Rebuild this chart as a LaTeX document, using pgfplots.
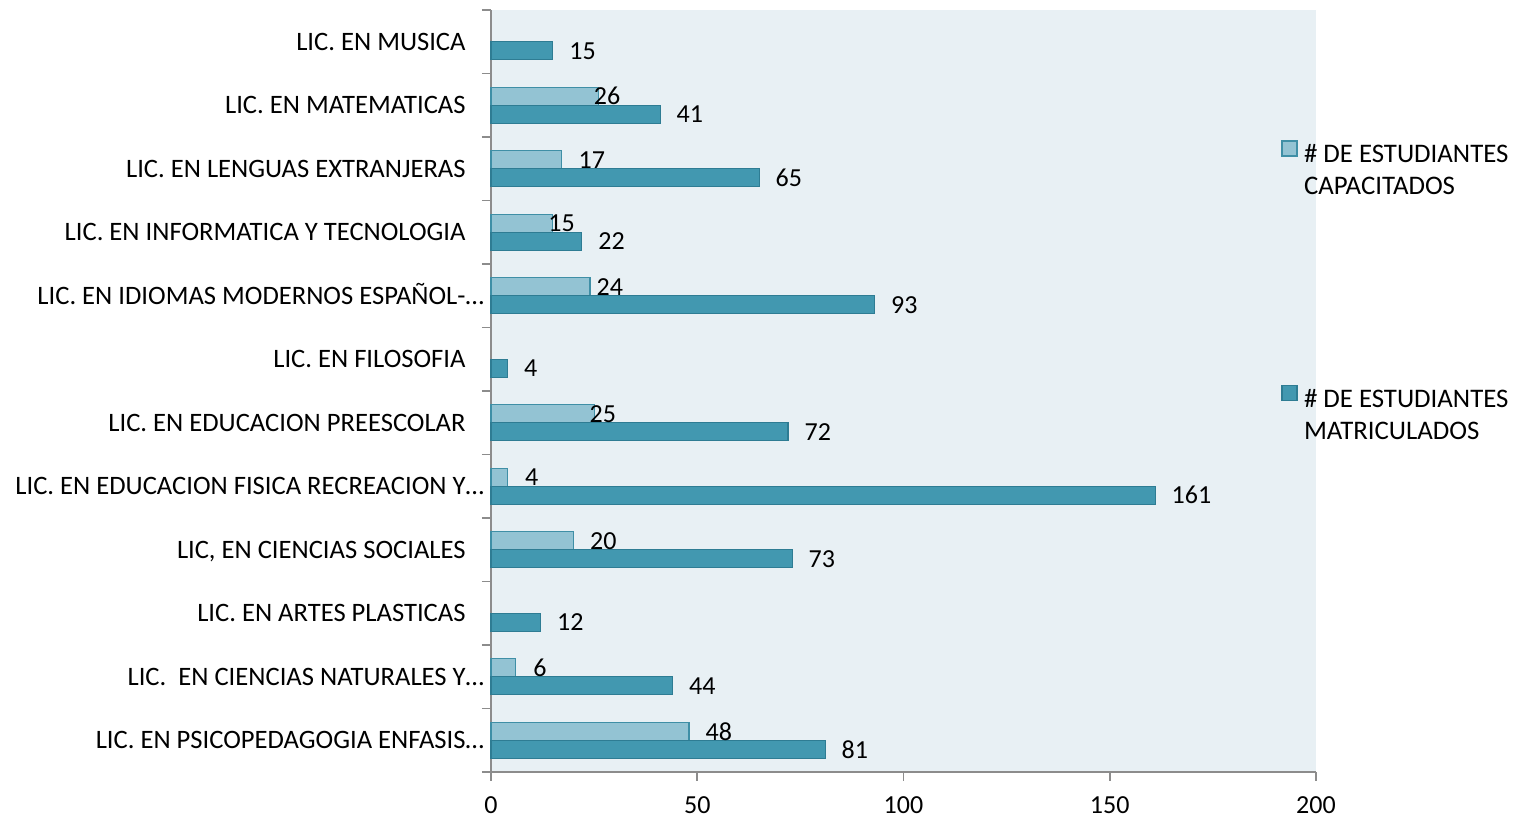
\documentclass[border=0pt]{standalone}
\usepackage{pgfplots}
\pgfplotsset{compat=1.18}
\usepackage{fontspec}
\setmainfont{Carlito}
\definecolor{bgc}{HTML}{E8F0F4}
\definecolor{matf}{HTML}{4298B0}
\definecolor{mate}{HTML}{2E7C93}
\definecolor{capf}{HTML}{93C3D3}
\definecolor{cape}{HTML}{3F8FA6}
\definecolor{axg}{HTML}{8C8C8C}
\begin{document}
\begin{tikzpicture}
\path[use as bounding box] (-245.5pt,-22.5pt) rectangle (515pt,386pt);
\begin{axis}[
  at={(0,0)}, anchor=south west,
  scale only axis, width=412.5pt, height=381pt,
  xmin=0, xmax=200, ymin=-0.5, ymax=11.5,
  /pgf/number format/assume math mode=true,
  axis lines=left, axis line style={-, axg, line width=0.8pt},
  axis background/.style={fill=bgc},
  xtick={0,50,100,150,200},
  tick align=outside,
  x tick style={axg, line width=0.8pt},
  major tick length=4.5pt,
  ytick={0,...,11},
  y tick style={draw=none},
  minor ytick={-0.5,0.5,...,11.5},
  minor y tick style={axg, line width=0.8pt, draw=axg},
  minor tick length=4.5pt,
  yticklabels={
    LIC. EN PSICOPEDAGOGIA ENFASIS\rlap{…},
    LIC.\ \ EN CIENCIAS NATURALES Y\rlap{…},
    LIC. EN ARTES PLASTICAS,
    LIC{,} EN CIENCIAS SOCIALES,
    LIC. EN EDUCACION FISICA RECREACION Y\rlap{…},
    LIC. EN EDUCACION PREESCOLAR,
    LIC. EN FILOSOFIA,
    LIC. EN IDIOMAS MODERNOS ESPAÑOL-\rlap{…},
    LIC. EN INFORMATICA Y TECNOLOGIA,
    LIC. EN LENGUAS EXTRANJERAS,
    LIC. EN MATEMATICAS,
    LIC. EN MUSICA},
  yticklabel style={font=\fontsize{13.3}{15}\selectfont, anchor=base east, inner sep=0pt, xshift=-8pt, yshift=-4.2pt},
  xticklabel style={font=\fontsize{13}{15}\selectfont, inner sep=0pt, anchor=north, yshift=-7.8pt},
  xbar, bar width=9pt,
  nodes near coords,
  every node near coord/.append style={font=\fontsize{13}{15}\selectfont, anchor=west, inner sep=0pt, xshift=\dx pt, black},
  visualization depends on={\thisrow{dx} \as \dx},
  legend style={at={(395pt,316pt)}, anchor=north west, draw=none, fill=none,
    font=\fontsize{13.4}{16}\selectfont, row sep=107.5pt,
    cells={anchor=west}, inner sep=0pt},
  legend image code/.code={\draw[#1, line width=0.8pt] (0pt,-0.5pt) rectangle (7.5pt,7pt);},
  clip=false,
]
\addplot[fill=capf, draw=cape, line width=0.6pt, bar shift=4.5pt] table[x=v, y=k] {
k v dx
0 48 8
1 6 8.5
3 20 8
4 4 8.5
5 25 -2.5
7 24 3
8 15 -2.5
9 17 8.5
10 26 -2.5
};
\addlegendentry{\parbox[t]{115pt}{\leftskip=1pt \# DE ESTUDIANTES\\CAPACITADOS}}
\addplot[fill=matf, draw=mate, line width=0.6pt, bar shift=-4.5pt] table[x=v, y=k] {
k v dx
0 81 8
1 44 8
2 12 8
3 73 8
4 161 8
5 72 8
6 4 8
7 93 8
8 22 8
9 65 8
10 41 8
11 15 8
};
\addlegendentry{\parbox[t]{115pt}{\leftskip=1pt \# DE ESTUDIANTES\\MATRICULADOS}}
\end{axis}
\end{tikzpicture}
\end{document}
